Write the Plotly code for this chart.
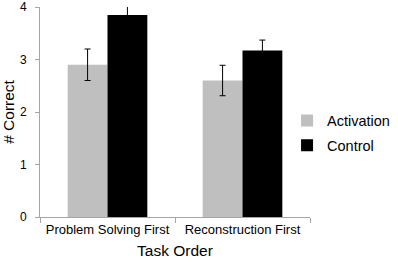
import plotly.graph_objects as go

categories = ["Problem Solving First", "Reconstruction First"]
activation = [2.9, 2.6]
activation_err = [0.3, 0.29]
control = [3.85, 3.17]
control_err = [0.17, 0.2]
y_ticks = [0, 1, 2, 3, 4]

fig = go.Figure()
fig.add_trace(go.Bar(
    name="Activation", x=categories, y=activation, legendgroup="a",
    marker=dict(color="#bfbfbf", line=dict(width=0)),
    error_y=dict(type="data", array=activation_err, color="black", thickness=1, width=3),
))
fig.add_trace(go.Bar(
    name="Control", x=categories, y=control, legendgroup="c",
    marker=dict(color="#000000", line=dict(width=0)),
    error_y=dict(type="data", array=control_err, color="black", thickness=1, width=3),
))

font = "Liberation Sans, Arial, sans-serif"
fig.update_layout(
    width=398, height=264,
    margin=dict(l=40, r=88, t=7, b=47, autoexpand=False),
    paper_bgcolor="white", plot_bgcolor="white",
    barmode="group", bargap=0.41, bargroupgap=0,
    font=dict(family=font, color="black", size=12),
    legend=dict(x=0.915, y=0.40, yanchor="middle", xanchor="left",
                font=dict(size=14.5, family=font), itemwidth=30,
                tracegroupgap=3, bgcolor="rgba(0,0,0,0)", borderwidth=0),
    xaxis=dict(
        showline=True, linecolor="#a6a6a6", linewidth=1, automargin=False,
        ticks="outside", tickson="boundaries", ticklen=5, tickcolor="#a6a6a6",
        tickfont=dict(size=13), tickangle=0, showgrid=False,
        title=dict(text="Task Order", font=dict(size=15.5), standoff=9),
    ),
    yaxis=dict(
        range=[0, 4], tickvals=y_ticks, automargin=False,
        showline=True, linecolor="#a6a6a6", linewidth=1,
        ticks="outside", ticklen=4, tickcolor="#a6a6a6", ticklabelstandoff=6,
        tickfont=dict(size=12), showgrid=False, zeroline=False,
        title=dict(text="# Correct", font=dict(size=15.5), standoff=8),
    ),
)
fig.write_html("out.html", config={"displayModeBar": False},
               post_script="document.body.style.margin='0';document.body.style.padding='0';")
